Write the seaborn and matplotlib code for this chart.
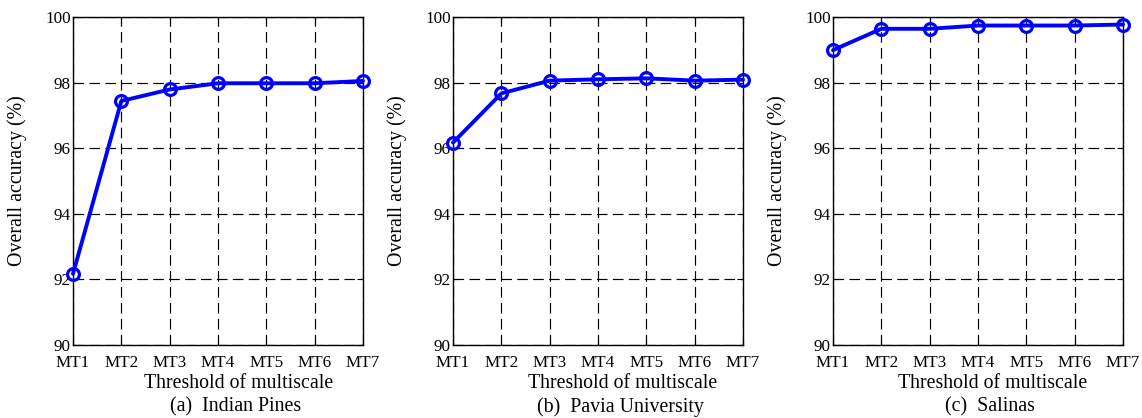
import matplotlib
matplotlib.use("Agg")
import matplotlib.pyplot as plt
import seaborn as sns
import pandas as pd

thresholds = ["MT1", "MT2", "MT3", "MT4", "MT5", "MT6", "MT7"]
indian_pines = [92.17, 97.44, 97.79, 97.98, 97.98, 97.98, 98.05]
pavia_university = [96.17, 97.67, 98.06, 98.10, 98.13, 98.06, 98.09]
salinas = [98.99, 99.64, 99.64, 99.74, 99.74, 99.74, 99.77]
captions = ["(a)  Indian Pines", "(b)  Pavia University", "(c)  Salinas"]
y_ticks = [90, 92, 94, 96, 98, 100]

sns.set_theme(style="ticks")
plt.rcParams["font.family"] = ["Liberation Serif", "DejaVu Serif"]

fig = plt.figure(figsize=(11.42, 4.18), dpi=100)
W, H = 1142, 418
panel_left = [73, 453, 833]
ax_w, ax_top, ax_bot = 290, 17, 345
caption_x = [236, 620, 990]

for i, (vals, cap) in enumerate(zip([indian_pines, pavia_university, salinas], captions)):
    ax = fig.add_axes([panel_left[i] / W, 1 - ax_bot / H, ax_w / W, (ax_bot - ax_top) / H])
    df = pd.DataFrame({"threshold": thresholds, "oa": vals})
    sns.lineplot(data=df, x="threshold", y="oa", ax=ax, sort=False,
                 color=(0, 0, 1), linewidth=2.8, marker="o", markersize=8.5,
                 markerfacecolor="none", markeredgecolor=(0, 0, 1), markeredgewidth=2.3,
                 clip_on=False, zorder=5)
    ax.set_xlim(0, len(thresholds) - 1)
    ax.set_ylim(90, 100)
    ax.set_yticks(y_ticks)
    ax.set_yticklabels([str(t) for t in y_ticks])
    ax.set_xticks(range(len(thresholds)))
    ax.set_xticklabels(thresholds)
    ax.grid(True, color="black", linestyle=(0, (9, 4.5)), linewidth=0.85)
    ax.tick_params(direction="in", length=4, width=0.8, top=True, right=True,
                   labelsize=12.3, colors="black")
    ax.tick_params(axis="x", pad=7.5)
    ax.tick_params(axis="y", pad=1.5)
    for s in ax.spines.values():
        s.set_color("black")
        s.set_linewidth(1.0)
    ax.set_ylabel("Overall accuracy (%)", fontsize=14.3, color="black")
    ax.yaxis.set_label_coords(-(panel_left[0] - 27) / ax_w, 0.5)
    ax.set_xlabel("Threshold of multiscale", fontsize=14.3, color="black")
    ax.xaxis.set_label_coords((caption_x[i] + 3 - panel_left[i]) / ax_w, -(383 - ax_bot) / (ax_bot - ax_top))
    ax.xaxis.label.set_va("center")
    fig.text(caption_x[i] / W, 1 - 407 / H, cap, ha="center", va="center", fontsize=14.3, color="black")

fig.savefig("out.png", dpi=100, facecolor="white")
